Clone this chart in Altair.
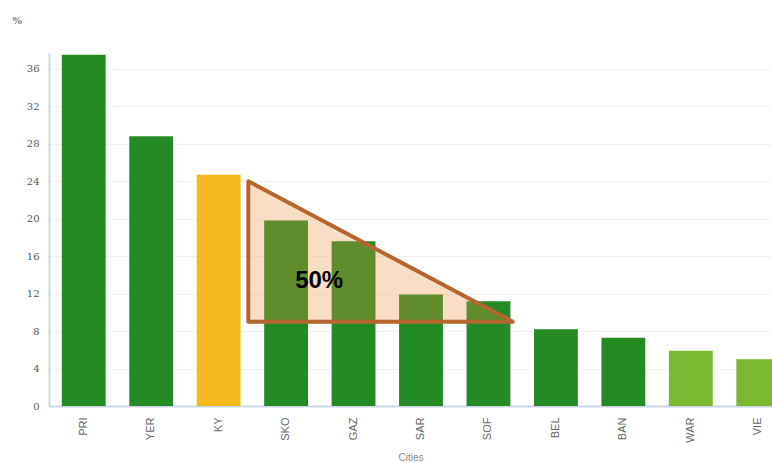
import altair as alt
import pandas as pd

# Share of respondents per city (%)
cities = ["PRI", "YER", "KY", "SKO", "GAZ", "SAR", "SOF", "BEL", "BAN", "WAR", "VIE"]
shares = [37.5, 28.8, 24.7, 19.8, 17.6, 11.9, 11.2, 8.2, 7.3, 5.9, 5.0]
groups = ["base", "base", "highlight", "base", "base", "base", "base", "base", "base", "low", "low"]

group_names = ["base", "highlight", "low"]
group_colors = ["#248a24", "#f5b91e", "#7cb930"]

y_ticks = [0, 4, 8, 12, 16, 20, 24, 28, 32, 36]

# Wedge marking the drop between KY and SOF (x in bar-index units)
wedge_x = [2.44, 6.36]
wedge_top = [24, 9]
wedge_base = [9, 9]

note_text = ["50%"]
note_x = [3.49]
note_y = [13.3]

bars_df = pd.DataFrame({"city": cities, "share": shares, "group": groups})
wedge_df = pd.DataFrame({"pos": wedge_x, "top": wedge_top, "base": wedge_base})
note_df = pd.DataFrame({"label": note_text, "pos": note_x, "val": note_y})

plot_w = 723
band_range = [0, 744]
y_scale = alt.Scale(domain=[0, 37.7], nice=False)
pos_scale = alt.Scale(domain=[-0.515, 10.515], range=band_range, nice=False, zero=False)

serif = "'DejaVu Serif', 'Liberation Serif', serif"

y_axis = alt.Axis(
    title="%",
    titleAngle=0,
    titleX=-37,
    titleY=-33,
    titleAlign="left",
    titleBaseline="middle",
    titleFont=serif,
    titleFontSize=10,
    titleFontWeight="bold",
    titleColor="#777777",
    values=y_ticks,
    tickCount=len(y_ticks),
    labelOverlap=False,
    labelFont=serif,
    labelFontSize=10,
    labelColor="#555555",
    labelPadding=10,
    ticks=False,
    domainColor="#c9d6e8",
    domainWidth=2,
    gridColor="#f2f2f2",
    gridWidth=1,
)

bars = alt.Chart(bars_df).mark_bar(clip=True).encode(
    x=alt.X(
        "city:N",
        sort=cities,
        scale=alt.Scale(range=band_range, paddingInner=0.35, paddingOuter=0.19),
        axis=alt.Axis(
            title="Cities",
            titleFont="Liberation Sans",
            titleFontSize=10,
            titleFontWeight="normal",
            titleColor="#888888",
            titleX=plot_w / 2,
            titleY=46,
            labelAngle=270,
            labelFont="Liberation Sans",
            labelFontSize=11,
            labelColor="#666666",
            labelPadding=11,
            ticks=False,
            domainColor="#c9d6e8",
            domainWidth=2,
            grid=False,
        ),
    ),
    y=alt.Y("share:Q", scale=y_scale, axis=y_axis),
    color=alt.Color("group:N", scale=alt.Scale(domain=group_names, range=group_colors), legend=None),
)

wedge = alt.Chart(wedge_df).mark_area(
    color="#ef913a",
    fillOpacity=0.3,
    stroke="#b5662f",
    strokeWidth=4,
    strokeOpacity=1,
    strokeJoin="round",
    interpolate="linear",
).encode(
    x=alt.X("pos:Q", scale=pos_scale, axis=None),
    y=alt.Y("top:Q", scale=y_scale, axis=y_axis),
    y2="base:Q",
)

note = alt.Chart(note_df).mark_text(
    font="Liberation Sans",
    fontSize=24,
    fontWeight="bold",
    color="#000000",
    align="center",
    baseline="middle",
).encode(
    x=alt.X("pos:Q", scale=pos_scale, axis=None),
    y=alt.Y("val:Q", scale=y_scale, axis=y_axis),
    text="label:N",
)

chart = (
    alt.layer(bars, wedge, note)
    .resolve_scale(x="independent")
    .properties(
        width=plot_w,
        height=353,
        padding={"left": 49, "top": 53, "right": 0, "bottom": 57},
        autosize=alt.AutoSizeParams(type="none"),
        background="#ffffff",
    )
    .configure_view(stroke=None)
)

chart.save("out.html", embed_options={"renderer": "svg", "actions": False})
